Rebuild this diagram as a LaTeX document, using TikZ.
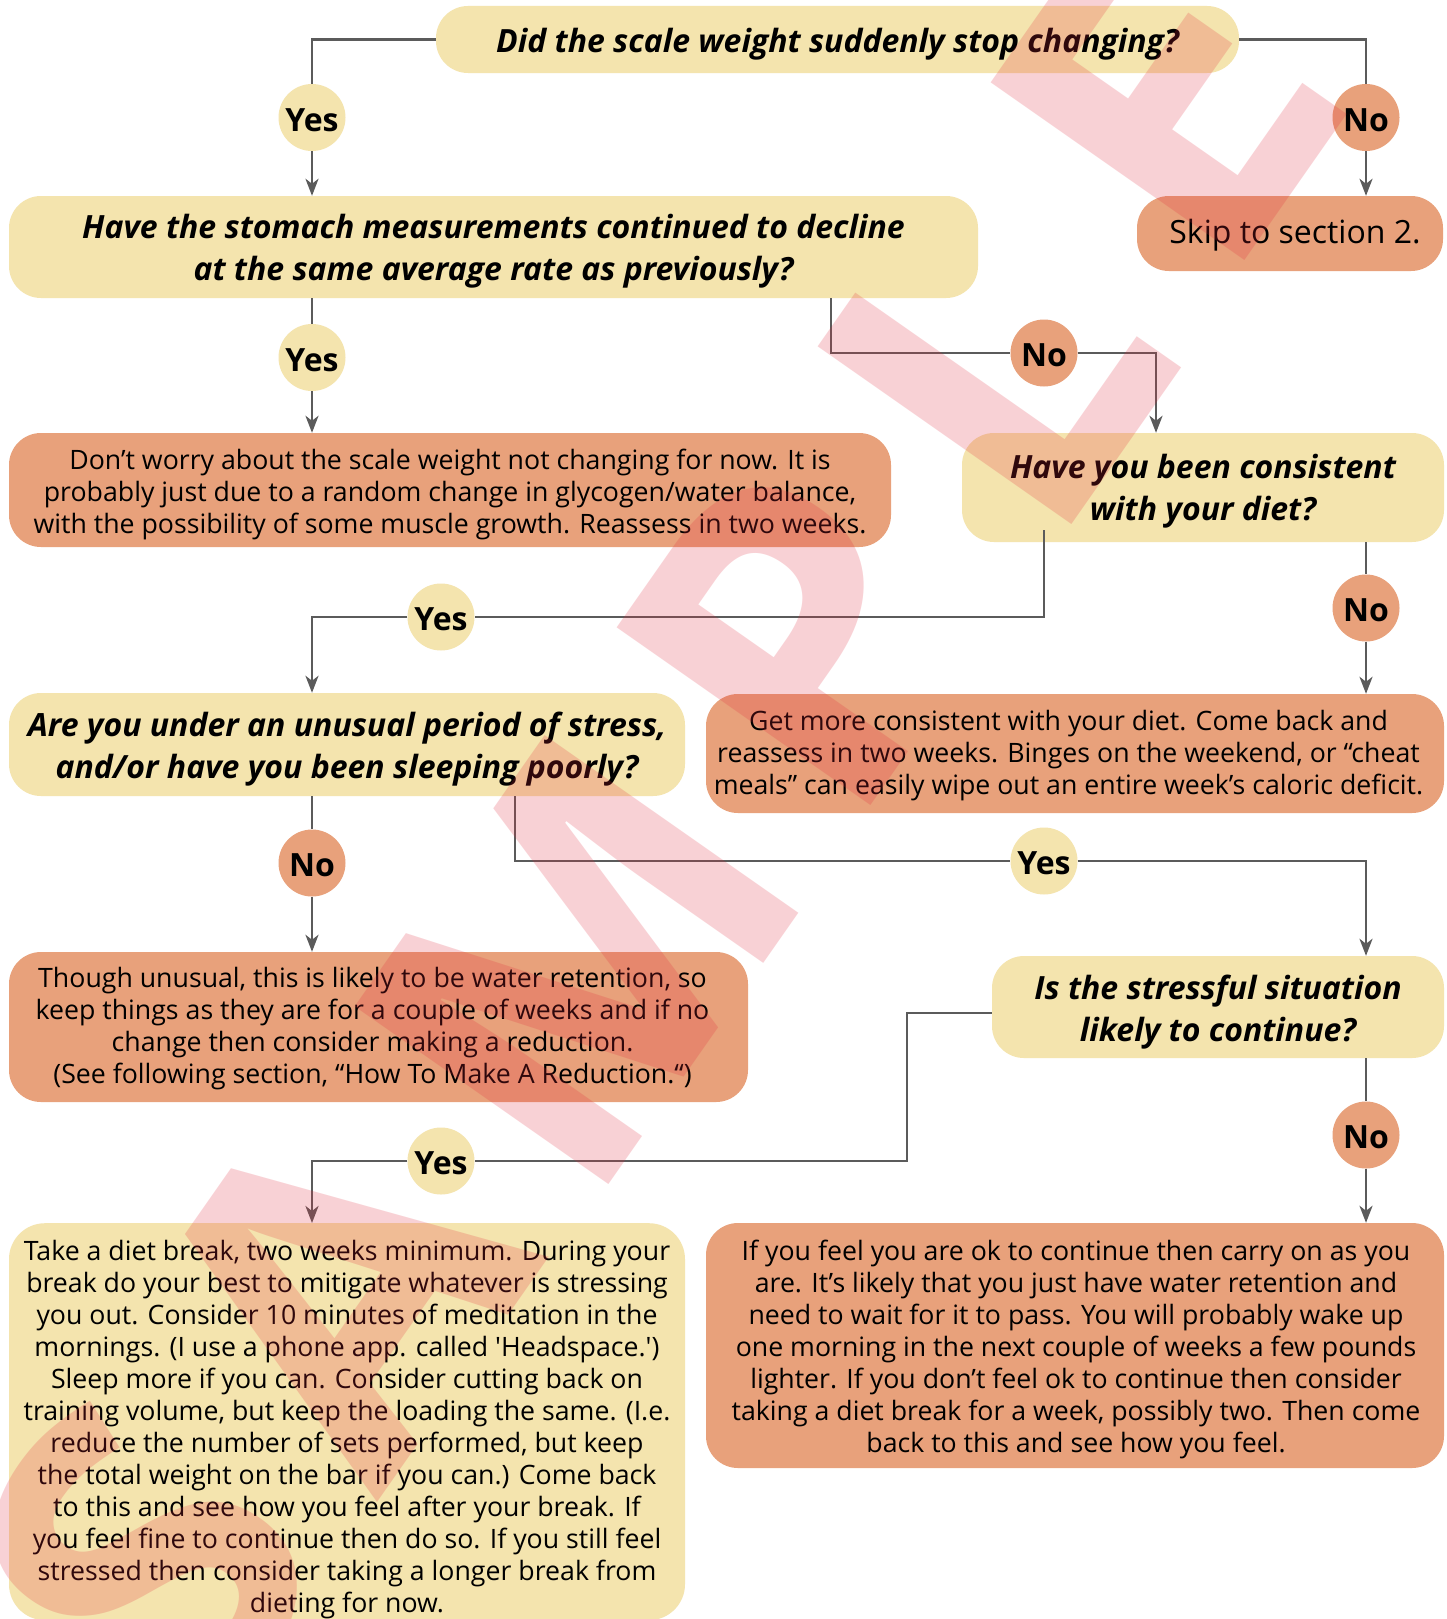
\documentclass[tikz,border=0pt]{standalone}
\usepackage{fontspec}
\setmainfont{Open Sans}[Ligatures=TeXOff]
\usetikzlibrary{arrows.meta,calc}
\definecolor{qyel}{HTML}{F4E4AE}
\definecolor{aorg}{HTML}{E8A17B}
\definecolor{lgray}{HTML}{5B5B5B}
\definecolor{wmred}{RGB}{226,40,59}
\tikzset{
  box/.style={rectangle, rounded corners=32pt, inner sep=0pt},
  qshape/.style={box, fill=qyel},
  ashape/.style={box, fill=aorg},
  qtext/.style={align=center, inner sep=0pt, font=\fontsize{32}{42}\selectfont\bfseries\itshape},
  atext/.style={align=center, inner sep=0pt, font=\fontsize{26.7}{32}\selectfont},
  skiptext/.style={inner sep=0pt, font=\fontsize{32}{36}\selectfont},
  bub/.style={circle, minimum size=67pt, inner sep=0pt, text height=27pt, text depth=0pt, font=\fontsize{32}{32}\selectfont\bfseries},
  ybub/.style={bub, fill=qyel},
  nbub/.style={bub, fill=aorg},
  conn/.style={draw=lgray, line width=2.7pt},
  arr/.style={conn, -{Stealth[length=17pt,width=13pt,inset=5pt]}},
  wmletter/.style={rotate=55, inner sep=0pt, text=wmred, text opacity=0.21, font=\fontsize{434}{434}\selectfont\bfseries},
}
\begin{document}
\begin{tikzpicture}[x=1pt,y=-1pt]
\useasboundingbox (0,0) rectangle (1447,1619);
\clip (0,0) rectangle (1447,1619);
\fill[white] (0,0) rectangle (1447,1619);

% box shapes
\node[qshape, minimum width=803pt, minimum height=67pt] (q1) at (837.5,39.5) {};
\node[ashape, minimum width=306pt, minimum height=75pt] (skip) at (1290,233.5) {};
\node[qshape, minimum width=969pt, minimum height=102pt] (q2) at (493.5,247) {};
\node[ashape, minimum width=882pt, minimum height=114pt] (a3) at (450,490) {};
\node[qshape, minimum width=482pt, minimum height=109pt] (q4) at (1203,487.5) {};
\node[qshape, minimum width=676pt, minimum height=103pt] (q5) at (347,744.5) {};
\node[ashape, minimum width=738pt, minimum height=119pt] (a6) at (1075,753.5) {};
\node[ashape, minimum width=739pt, minimum height=150pt] (a7) at (378.5,1027) {};
\node[qshape, minimum width=452pt, minimum height=102pt] (q8) at (1218,1007) {};
\node[qshape, rounded corners=36pt, minimum width=676pt, minimum height=397pt, anchor=north] (a9) at (347,1223) {};
\node[ashape, minimum width=738pt, minimum height=245pt] (a10) at (1075,1345.5) {};

% box texts
\node[qtext] (q1t) at ([yshift=-5pt]q1.center) {Did the scale weight suddenly stop changing?};
\node[skiptext] (skipt) at ([xshift=5pt,yshift=-2pt]skip.center) {Skip to section 2.};
\node[qtext] (q2t) at ([yshift=-4pt]q2.center) {Have the stomach measurements continued to decline\\at the same average rate as previously?};
\node[atext] (a3t) at ([yshift=-4.5pt]a3.center) {Don’t worry about the scale weight not changing for now. It is\\probably just due to a random change in glycogen/water balance,\\with the possibility of some muscle growth. Reassess in two weeks.};
\node[qtext] (q4t) at ([yshift=-4pt]q4.center) {Have you been consistent\\with your diet?};
\node[qtext] (q5t) at ([yshift=-5pt]q5.center) {Are you under an unusual period of stress,\\and/or have you been sleeping poorly?};
\node[atext] (a6t) at ([xshift=-6.5pt,yshift=-2pt]a6.center) {Get more consistent with your diet. Come back and\\reassess in two weeks. Binges on the weekend, or “cheat\\meals” can easily wipe out an entire week’s caloric deficit.};
\node[atext] (a7t) at ([xshift=-6pt,yshift=-2pt]a7.center) {Though unusual, this is likely to be water retention, so\\keep things as they are for a couple of weeks and if no\\change then consider making a reduction.\\(See following section, “How To Make A Reduction.“)};
\node[qtext] (q8t) at ([yshift=-5pt]q8.center) {Is the stressful situation\\likely to continue?};
\node[atext] (a9t) at ([yshift=-7.5pt]a9.center) {Take a diet break, two weeks minimum. During your\\break do your best to mitigate whatever is stressing\\you out. Consider 10 minutes of meditation in the\\mornings. (I use a phone app. called 'Headspace.')\\Sleep more if you can. Consider cutting back on\\training volume, but keep the loading the same. (I.e.\\reduce the number of sets performed, but keep\\the total weight on the bar if you can.) Come back\\to this and see how you feel after your break. If\\you feel fine to continue then do so. If you still feel\\stressed then consider taking a longer break from\\dieting for now.};
\node[atext] (a10t) at ([xshift=1pt,yshift=-4pt]a10.center) {If you feel you are ok to continue then carry on as you\\are. It’s likely that you just have water retention and\\need to wait for it to pass. You will probably wake up\\one morning in the next couple of weeks a few pounds\\lighter. If you don’t feel ok to continue then consider\\taking a diet break for a week, possibly two. Then come\\back to this and see how you feel.};

% bubbles
\node[ybub] (y1) at (312,117.5) {Yes};
\node[nbub] (n1) at (1366,117.5) {No};
\node[ybub] (y2) at (312,357.5) {Yes};
\node[nbub] (n2) at (1044,353) {No};
\node[ybub] (y3) at (441,617) {Yes};
\node[nbub] (n3) at (1366,608) {No};
\node[nbub] (n4) at (312,863) {No};
\node[ybub] (y4) at (1044,861) {Yes};
\node[ybub] (y5) at (441,1161) {Yes};
\node[nbub] (n5) at (1366,1135) {No};

% helper coordinates
\coordinate (k1) at (831,353);
\coordinate (k2) at (1156,353);
\coordinate (k3) at (1044,617);
\coordinate (k4) at (312,617);
\coordinate (k5) at (515,861);
\coordinate (k6) at (1366,861);
\coordinate (k7) at (907,1161);
\coordinate (k8) at (312,1161);

% connectors
\draw[conn] (q1.west) -| (y1.north);
\draw[arr] (y1) -- (q2.north -| y1);
\draw[conn] (q1.east) -| (n1.north);
\draw[arr] (n1) -- (skip.north -| n1);
\draw[conn] (q2.south -| y2) -- (y2);
\draw[arr] (y2) -- (a3.north -| y2);
\draw[conn] (q2.south -| k1) -- (k1) -- (n2);
\draw[arr] (n2) -- (k2) -- (q4.north -| k2);
\draw[conn] ([yshift=12pt]q4.south -| k3) -- (k3) -- (y3);
\draw[arr] (y3) -- (k4) -- (q5.north -| k4);
\draw[conn] (q4.south -| n3) -- (n3);
\draw[arr] (n3) -- (a6.north -| n3);
\draw[conn] (q5.south -| n4) -- (n4);
\draw[arr] (n4) -- (a7.north -| n4);
\draw[conn] (q5.south -| k5) -- (k5) -- (y4);
\draw[arr] (y4) -- (k6) -- (q8.north -| k6);
\draw[conn] ([yshift=-6pt]q8.west) -- ([yshift=-6pt]q8.west -| k7) -- (k7) -- (y5);
\draw[arr] (y5) -- (k8) -- (a9.north -| k8);
\draw[conn] (q8.south -| n5) -- (n5);
\draw[arr] (n5) -- (a10.north -| n5);

% watermark, letter by letter
\node[wmletter, anchor=base east] (wmS) at (341,1554) {S};
\node[wmletter, anchor=base east] (wmA) at (549,1257) {A};
\node[wmletter, anchor=base east] (wmM) at (821,881) {M};
\node[wmletter, anchor=base west] (wmP) at (848,838) {P};
\node[wmletter, anchor=base west] (wmL) at (1049,557) {L};
\node[wmletter, anchor=base west] (wmE) at (1222,293) {E};
\end{tikzpicture}
\end{document}
